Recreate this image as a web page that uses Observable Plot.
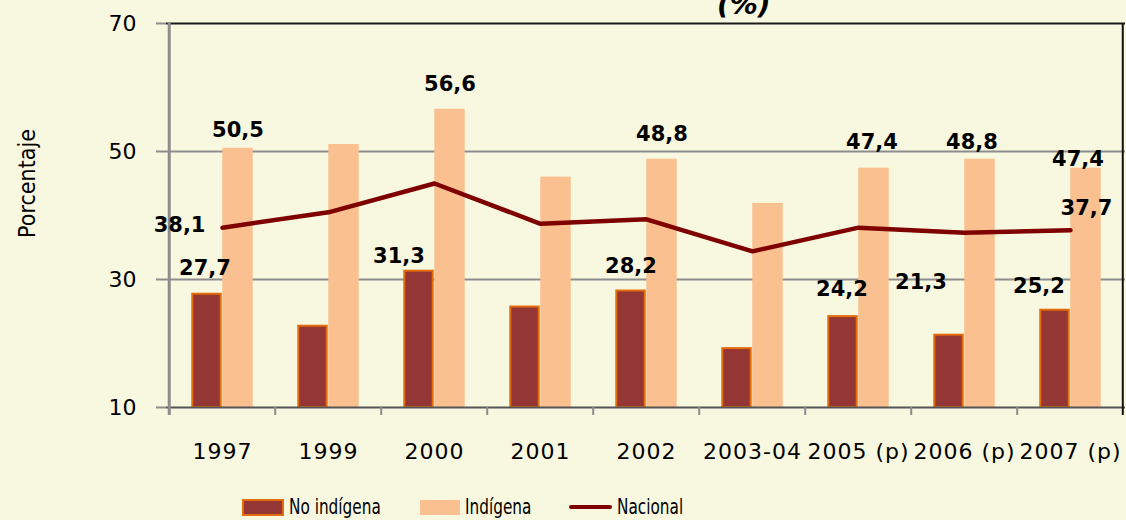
<!DOCTYPE html>
<html>
<head>
<meta charset="utf-8">
<script src="https://cdn.jsdelivr.net/npm/d3@7"></script>
<script src="https://cdn.jsdelivr.net/npm/@observablehq/plot@0.6"></script>
<style>
  html, body { margin: 0; padding: 0; background: #F8F8E0; }
  #wrap { position: relative; width: 1126px; height: 520px; overflow: hidden; background: #F8F8E0; }
  #title { position: absolute; left: 717px; top: -9px; font: italic bold 28px/28px "DejaVu Sans", sans-serif; color: #000; white-space: nowrap; }
  #chart { position: absolute; left: 0; top: 0; }
  .leg { position: absolute; top: 495px; height: 24px; display: flex; align-items: center; font: 17px "DejaVu Sans Condensed", "DejaVu Sans", sans-serif; color: #000; white-space: nowrap; }
  .leg .sw { display: inline-block; box-sizing: border-box; margin-right: 5px; }
  .leg .tx { display: inline-block; transform: scaleY(1.2); transform-origin: 50% 55%; }
  g[aria-label="x-axis tick label"] text { letter-spacing: 1px; }
</style>
</head>
<body>
<div id="wrap">
  <div id="title">(%)</div>
  <div id="chart"></div>
  <div id="legend"></div>
</div>
<script>
// ---- data ----
const categories = ["1997", "1999", "2000", "2001", "2002", "2003-04", "2005 (p)", "2006 (p)", "2007 (p)"];
const noIndigena = [27.7, 22.7, 31.3, 25.7, 28.2, 19.2, 24.2, 21.3, 25.2];
const indigena   = [50.5, 51.1, 56.6, 46.0, 48.8, 41.9, 47.4, 48.8, 47.4];
const nacional   = [38.1, 40.5, 45.0, 38.7, 39.4, 34.4, 38.1, 37.3, 37.7];
const yTicks = [10, 30, 50, 70];
const seriesNames = ["No indígena", "Indígena", "Nacional"];
const labeledBarCats = ["1997", "2000", "2002", "2005 (p)", "2006 (p)", "2007 (p)"];
const labeledLineCats = ["1997", "2007 (p)"];
const yTitle = "Porcentaje";

// ---- styles / label nudges (screen px) ----
const colNo = "#943634", colNoStroke = "#E46C0A", colInd = "#FAC090", colNac = "#7F0000";
const nudgeNo  = {"1997": [-2, -26], "2000": [-20, -15], "2002": [0, -25], "2005 (p)": [-1, -27], "2006 (p)": [-28, -53], "2007 (p)": [-16, -24]};
const nudgeInd = {"1997": [0, -18], "2000": [0, -25], "2002": [0, -25], "2005 (p)": [-2, -26], "2006 (p)": [-8, -17], "2007 (p)": [-8, -9]};
const nudgeNac = {"1997": [-17, -2, "end"], "2007 (p)": [16, -22, "middle"]};

const W = 1126, H = 470, mL = 166, mR = 1, mT = 23, mB = 63;
const bw = (W - mL - mR) / categories.length;
const barW = 31;

const rows = categories.map((c, i) => ({cat: c, no: noIndigena[i], ind: indigena[i], nac: nacional[i]}));

const labelMarks = [];
for (const c of labeledBarCats) {
  const r = rows.find(d => d.cat === c);
  const [nx, ny] = nudgeNo[c];
  labelMarks.push(Plot.text([r], {x: "cat", y: "no", text: d => d.no.toFixed(1).replace(".", ","), dx: -barW / 2 + nx, dy: ny,
    fontWeight: "bold", fontSize: 21, fill: "#000"}));
  const [ix, iy] = nudgeInd[c];
  labelMarks.push(Plot.text([r], {x: "cat", y: "ind", text: d => d.ind.toFixed(1).replace(".", ","), dx: barW / 2 + ix, dy: iy,
    fontWeight: "bold", fontSize: 21, fill: "#000"}));
}
for (const c of labeledLineCats) {
  const r = rows.find(d => d.cat === c);
  const [lx, ly, anchor] = nudgeNac[c];
  labelMarks.push(Plot.text([r], {x: "cat", y: "nac", text: d => d.nac.toFixed(1).replace(".", ","), dx: lx, dy: ly,
    textAnchor: anchor, fontWeight: "bold", fontSize: 21, fill: "#000"}));
}

const plotH = H - mT - mB;

const chart = Plot.plot({
  width: W, height: H,
  marginLeft: mL, marginRight: mR, marginTop: mT, marginBottom: mB,
  style: {background: "transparent", fontFamily: "DejaVu Sans, sans-serif", color: "#000", overflow: "visible"},
  x: {domain: categories, padding: 0, axis: null},
  y: {domain: [10, 70], axis: null},
  marks: [
    // gridlines
    Plot.ruleY([30, 50], {stroke: "#8c8c8c", strokeWidth: 2}),
    Plot.ruleY([70], {stroke: "#1a1a1a", strokeWidth: 2}),
    // bars
    Plot.barY(rows, {x: "cat", y1: 10, y2: "no", fill: colNo, stroke: colNoStroke, strokeWidth: 2,
      insetLeft: bw / 2 - barW + 1, insetRight: bw / 2 + 1}),
    Plot.barY(rows, {x: "cat", y1: 10, y2: "ind", fill: colInd, insetLeft: bw / 2, insetRight: bw / 2 - barW}),
    // baseline
    Plot.ruleY([10], {stroke: "#555", strokeWidth: 2}),
    // category boundary ticks
    Plot.ruleX(categories, {x: d => d, dx: -bw / 2, insetTop: plotH, insetBottom: -8, stroke: "#8c8c8c", strokeWidth: 2}),
    Plot.ruleX([categories[categories.length - 1]], {x: d => d, dx: bw / 2 - 1, insetBottom: -8, stroke: "#111", strokeWidth: 2}),
    // left axis line
    Plot.ruleX([categories[0]], {x: d => d, dx: -bw / 2, insetBottom: -8, stroke: "#8c8c8c", strokeWidth: 3}),
    // y axis ticks + labels
    Plot.axisY(yTicks, {tickSize: 10, tickPadding: 20, fontSize: 22, stroke: "#8c8c8c", strokeWidth: 2, fill: "#000", label: null}),
    // x axis labels
    Plot.axisX({tickSize: 0, tickPadding: 36, fontSize: 22, fill: "#000", label: null}),
    // nacional line
    Plot.line(rows, {x: "cat", y: "nac", stroke: colNac, strokeWidth: 4.5}),
    // labels
    ...labelMarks,
    // y title
    Plot.text([yTitle], {text: d => d, frameAnchor: "left", textAnchor: "middle", rotate: -90, dx: -139, dy: -32,
      fontFamily: "DejaVu Sans Condensed, DejaVu Sans, sans-serif", fontSize: 23, fill: "#000"})
  ]
});
document.getElementById("chart").appendChild(chart);

// legend (HTML)
const legend = document.getElementById("legend");
const legItems = [
  {name: seriesNames[0], left: 242, sw: `width:42px;height:17px;background:${colNo};border:2px solid ${colNoStroke};`},
  {name: seriesNames[1], left: 420, sw: `width:40px;height:15px;background:${colInd};`},
  {name: seriesNames[2], left: 569, sw: `width:43px;height:4px;background:${colNac};border-radius:2px;`}
];
for (const it of legItems) {
  const d = document.createElement("div");
  d.className = "leg";
  d.style.left = it.left + "px";
  const s = document.createElement("span");
  s.className = "sw";
  s.style.cssText = it.sw;
  d.appendChild(s);
  const t = document.createElement("span");
  t.className = "tx";
  t.textContent = it.name;
  d.appendChild(t);
  legend.appendChild(d);
}
</script>
</body>
</html>
